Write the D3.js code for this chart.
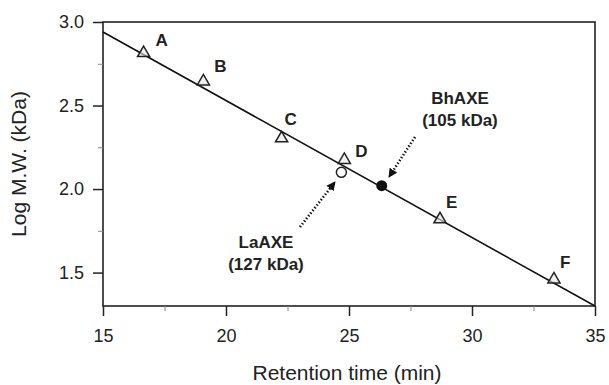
<!DOCTYPE html>
<html><head><meta charset="utf-8">
<script src="https://cdn.jsdelivr.net/npm/d3@7"></script>
<style>body{margin:0;background:#fff}svg{display:block}text{font-family:Arial,"Liberation Sans",sans-serif;fill:#222}</style>
</head><body><svg id="c" width="609" height="385"></svg>
<script>
const standardNames = ["A","B","C","D","E","F"];
const standardTimes = [16.65, 19.08, 22.26, 24.81, 28.7, 33.33];
const standardLogMW = [2.82, 2.65, 2.31, 2.18, 1.825, 1.465];
const labelOffsets = [[12,-6],[11,-8],[3,-12],[11,-2],[6,-10],[6,-10]];
const samples = ["LaAXE","BhAXE"];
const sampleKDa = ["(127 kDa)","(105 kDa)"];
const sampleTimes = [24.69, 26.33];
const sampleLogMW = [2.10, 2.02];
const fitLine = [[15, 2.94],[35, 1.30]];
const xTicks = [15,20,25,30,35];
const xMinor = [17.5,22.5,27.5,32.5];
const yTicks = [1.5,2.0,2.5,3.0];
const yMinor = [1.75,2.25,2.75];

const svg = d3.select("#c");
const L=103,R=595,T=22,B=306;
const x = d3.scaleLinear().domain([15,35]).range([L,R]);
const y = d3.scaleLinear().domain([1.3,3.0]).range([B,T]);
const col="#222";

// frame
svg.append("rect").attr("x",L).attr("y",T).attr("width",R-L).attr("height",B-T)
  .attr("fill","none").attr("stroke",col).attr("stroke-width",1.6);

const xa = svg.append("g").attr("transform",`translate(0,${B})`)
  .call(d3.axisBottom(x).tickValues(xTicks).tickSize(10).tickPadding(10).tickFormat(d3.format("d")));
const xm = svg.append("g").attr("transform",`translate(0,${B})`)
  .call(d3.axisBottom(x).tickValues(xMinor).tickSize(5).tickFormat(""));
const ya = svg.append("g").attr("transform",`translate(${L},0)`)
  .call(d3.axisLeft(y).tickValues(yTicks).tickSize(10).tickPadding(9).tickFormat(d3.format(".1f")));
const ym = svg.append("g").attr("transform",`translate(${L},0)`)
  .call(d3.axisLeft(y).tickValues(yMinor).tickSize(5).tickFormat(""));
[xa,xm,ya,ym].forEach(g=>{g.select(".domain").remove();
  g.selectAll("line").attr("stroke",col).attr("stroke-width",1.5);
  g.selectAll("text").attr("font-size",18).attr("fill",col).style("font-family","Arial, 'Liberation Sans', sans-serif");});
xm.selectAll("line").attr("stroke","#888").attr("stroke-width",1);
ym.selectAll("line").attr("stroke","#888").attr("stroke-width",1);
xa.selectAll("text").attr("dy","0.9em");

svg.append("text").attr("x",(L+R)/2 - 2).attr("y",380).attr("text-anchor","middle").attr("font-size",21).text("Retention time (min)");
svg.append("text").attr("transform",`translate(26,${(T+B)/2}) rotate(-90)`).attr("text-anchor","middle").attr("font-size",21).text("Log M.W. (kDa)");

// fit line
svg.append("line").attr("x1",x(fitLine[0][0])).attr("y1",y(fitLine[0][1]))
  .attr("x2",x(fitLine[1][0])).attr("y2",y(fitLine[1][1])).attr("stroke","#111").attr("stroke-width",1.6);

// arrows
const defs = svg.append("defs");
defs.append("marker").attr("id","ah").attr("viewBox","0 0 10 10").attr("refX",9).attr("refY",5)
  .attr("markerWidth",3.5).attr("markerHeight",3.5).attr("orient","auto")
  .append("path").attr("d","M0,0L10,5L0,10z").attr("fill","#111");
const arrows = [[[300,227],[335,182]],[[415,137],[389,177]]];
arrows.forEach(a=>svg.append("line").attr("x1",a[0][0]).attr("y1",a[0][1]).attr("x2",a[1][0]).attr("y2",a[1][1])
  .attr("stroke","#111").attr("stroke-width",2.6).attr("stroke-dasharray","1.4 2").attr("marker-end","url(#ah)"));

// standards
const tri = d3.symbol().type(d3.symbolTriangle).size(64);
standardTimes.forEach((t,i)=>{
  svg.append("path").attr("d",tri()).attr("transform",`translate(${x(t)},${y(standardLogMW[i])+1})`)
    .attr("fill","#e6e6e6").attr("fill-opacity",0.6).attr("stroke","#222").attr("stroke-width",1.5);
  svg.append("text").attr("x",x(t)+labelOffsets[i][0]).attr("y",y(standardLogMW[i])+labelOffsets[i][1])
    .attr("font-size",17).attr("font-weight","bold").text(standardNames[i]);
});
// samples
svg.append("circle").attr("cx",x(sampleTimes[0])).attr("cy",y(sampleLogMW[0])).attr("r",5)
  .attr("fill","#fff").attr("stroke","#222").attr("stroke-width",1.5);
svg.append("circle").attr("cx",x(sampleTimes[1])).attr("cy",y(sampleLogMW[1])).attr("r",5.5)
  .attr("fill","#111");

const sLab = [[266,248],[460,104]];
samples.forEach((s,i)=>{
  svg.append("text").attr("x",sLab[i][0]).attr("y",sLab[i][1]).attr("text-anchor","middle")
    .attr("font-size",17).attr("font-weight","bold").text(s);
  svg.append("text").attr("x",sLab[i][0]).attr("y",sLab[i][1]+22).attr("text-anchor","middle")
    .attr("font-size",17).attr("font-weight","bold").text(sampleKDa[i]);
});
</script></body></html>
